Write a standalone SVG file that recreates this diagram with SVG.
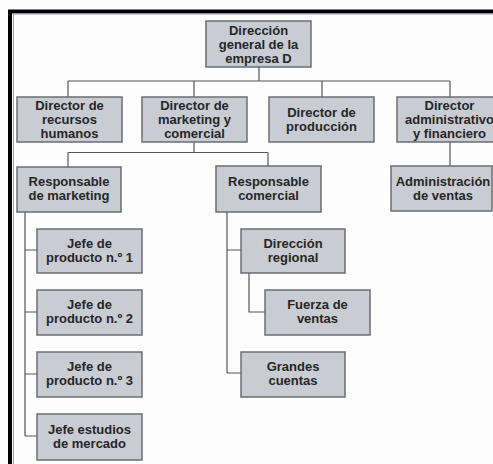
<svg xmlns="http://www.w3.org/2000/svg" width="493" height="464" viewBox="0 0 493 464">
<style>
.box{fill:#c9ccd3;stroke:#6b6d72;stroke-width:1.5}
.t{font-family:"Liberation Sans",Arial,sans-serif;font-weight:bold;font-size:13px;fill:#262626;text-anchor:middle}
.c{fill:none;stroke:#555;stroke-width:1.2}
</style>
<rect x="0" y="0" width="493" height="464" fill="#fdfdfd"/>
<g id="frame">
<path d="M10,464 V11.5 H493" fill="none" stroke="#000" stroke-width="4"/>
<path d="M13.5,464 V14 H493" fill="none" stroke="#9aa0a8" stroke-width="1"/>
</g>
<g id="connectors" class="c">
<path d="M259,67 V81 M68,81 H450 M68,81 V97 M194,81 V97 M322,81 V97 M450,81 V97"/>
<path d="M194,142 V152.5 M68,152.5 H268 M68,152.5 V167 M268,152.5 V166"/>
<path d="M450,142 V166"/>
<path d="M25,212 V436 M25,250 H37 M25,312 H37 M25,374 H37 M25,436 H37"/>
<path d="M227,212 V373 M227,250 H241 M227,373 H241"/>
<path d="M249,273 V312 H265"/>
</g>
<g id="n0"><rect class="box" x="206" y="21" width="105" height="46"/><text class="t" x="258.5" y="35">Dirección</text><text class="t" x="258.5" y="49">general de la</text><text class="t" x="258.5" y="63">empresa D</text></g>
<g id="n1"><rect class="box" x="17" y="97" width="105" height="45"/><text class="t" x="69.5" y="110">Director de</text><text class="t" x="69.5" y="124">recursos</text><text class="t" x="69.5" y="138">humanos</text></g>
<g id="n2"><rect class="box" x="142" y="97" width="105" height="45"/><text class="t" x="194.5" y="110">Director de</text><text class="t" x="194.5" y="124">marketing y</text><text class="t" x="194.5" y="138">comercial</text></g>
<g id="n3"><rect class="box" x="269" y="97" width="105" height="45"/><text class="t" x="321.5" y="117">Director de</text><text class="t" x="321.5" y="131">producción</text></g>
<g id="n4"><rect class="box" x="397" y="97" width="105" height="45"/><text class="t" x="449.5" y="110">Director</text><text class="t" x="449.5" y="124">administrativo</text><text class="t" x="449.5" y="138">y financiero</text></g>
<g id="n5"><rect class="box" x="17" y="167" width="104" height="45"/><text class="t" x="69" y="186">Responsable</text><text class="t" x="69" y="200">de marketing</text></g>
<g id="n6"><rect class="box" x="216" y="166" width="105" height="46"/><text class="t" x="268.5" y="186">Responsable</text><text class="t" x="268.5" y="200">comercial</text></g>
<g id="n7"><rect class="box" x="391" y="166" width="101" height="45"/><text class="t" x="443" y="186">Administración</text><text class="t" x="443" y="200">de ventas</text></g>
<g id="n8"><rect class="box" x="37" y="229" width="105" height="44"/><text class="t" x="89.5" y="248">Jefe de</text><text class="t" x="89.5" y="262">producto n.º 1</text></g>
<g id="n9"><rect class="box" x="37" y="290" width="105" height="45"/><text class="t" x="89.5" y="309">Jefe de</text><text class="t" x="89.5" y="323">producto n.º 2</text></g>
<g id="n10"><rect class="box" x="37" y="352" width="105" height="45"/><text class="t" x="89.5" y="371">Jefe de</text><text class="t" x="89.5" y="385">producto n.º 3</text></g>
<g id="n11"><rect class="box" x="37" y="414" width="105" height="46"/><text class="t" x="89.5" y="434">Jefe estudios</text><text class="t" x="89.5" y="448">de mercado</text></g>
<g id="n12"><rect class="box" x="241" y="229" width="104" height="44"/><text class="t" x="293" y="248">Dirección</text><text class="t" x="293" y="262">regional</text></g>
<g id="n13"><rect class="box" x="265" y="290" width="105" height="45"/><text class="t" x="317.5" y="309">Fuerza de</text><text class="t" x="317.5" y="323">ventas</text></g>
<g id="n14"><rect class="box" x="241" y="352" width="104" height="45"/><text class="t" x="293" y="371">Grandes</text><text class="t" x="293" y="385">cuentas</text></g>
</svg>
